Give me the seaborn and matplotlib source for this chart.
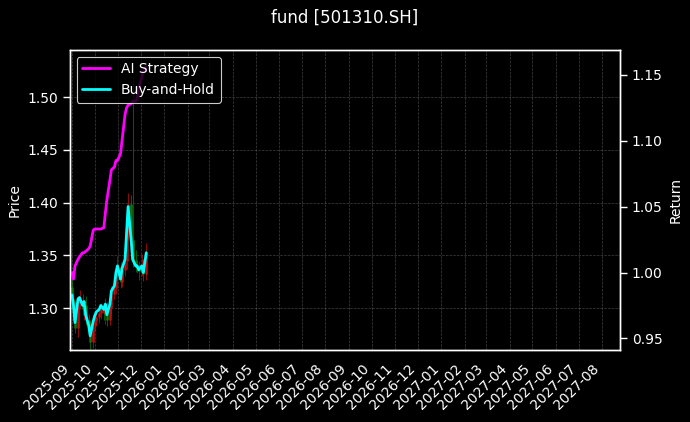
import matplotlib
matplotlib.use("Agg")
import matplotlib.pyplot as plt
import matplotlib.dates as mdates
import seaborn as sns
import pandas as pd
import numpy as np

sns.set_theme(style="dark", context="paper")
plt.style.use("dark_background")
plt.rcParams['font.family'] = ['DejaVu Sans']
plt.rcParams['font.size'] = 10

dates = pd.bdate_range('2025-09-01', '2025-12-10')[::2][:36]
bh = [0.983,0.975,0.962,0.98,0.981,0.975,0.978,0.968,0.96,0.952,0.963,0.967,0.97,0.972,0.975,0.972,
      0.976,0.968,0.976,0.986,0.99,1.0,1.005,0.995,1.003,1.01,1.03,1.05,1.025,1.01,1.005,1.005,1.002,1.005,1.0,1.015]
ai = [1.0,0.995,1.005,1.01,1.012,1.015,1.015,1.016,1.018,1.02,1.032,1.033,1.033,1.033,1.033,1.034,1.045,1.055,
      1.07,1.078,1.08,1.085,1.085,1.09,1.1,1.12,1.125,1.127,1.128,1.13,1.13,1.132,1.14,1.148,1.152,1.156]
close = [1.309,1.299,1.281,1.305,1.307,1.299,1.303,1.289,1.279,1.268,1.283,1.288,1.292,1.295,1.299,1.295,1.300,
         1.289,1.300,1.313,1.319,1.332,1.339,1.325,1.336,1.345,1.372,1.399,1.365,1.345,1.339,1.339,1.335,1.339,1.332,1.352]
opn = [1.320] + close[:-1]
wick_up = [0.01,0.005,0.008,0.006,0.01,0.006,0.004,0.008,0.005,0.006,0.01,0.005,0.006,0.004,0.006,0.005,0.01,0.006,
           0.005,0.008,0.006,0.006,0.01,0.005,0.006,0.01,0.01,0.01,0.008,0.155,0.01,0.008,0.006,0.012,0.008,0.01]
wick_dn = [0.006,0.01,0.005,0.008,0.006,0.006,0.01,0.005,0.006,0.01,0.006,0.005,0.004,0.006,0.005,0.006,0.01,0.006,
           0.005,0.006,0.004,0.006,0.005,0.006,0.005,0.006,0.008,0.006,0.01,0.006,0.005,0.006,0.008,0.005,0.006,0.005]

fig, ax = plt.subplots(figsize=(6.9, 4.22), dpi=100)
fig.patch.set_facecolor('black')
ax.set_facecolor('black')
fig.subplots_adjust(left=0.101, right=0.899, top=0.882, bottom=0.17)

for d, o, c, wu, wd in zip(dates, opn, close, wick_up, wick_dn):
    col = '#d01010' if c >= o else '#108010'
    ax.vlines(d, min(o, c) - wd, max(o, c) + wu, color=col, linewidth=0.6, alpha=0.8)
    ax.vlines(d, min(o, c), max(o, c), color=col, linewidth=2, alpha=0.8)
ax.set_ylabel('Price', fontsize=10)
ax.set_ylim(1.260, 1.545)
ax.set_xlim(pd.Timestamp('2025-08-29'), pd.Timestamp('2027-08-25'))
ax.xaxis.set_major_locator(mdates.MonthLocator())
ax.xaxis.set_major_formatter(mdates.DateFormatter('%Y-%m'))
ax.tick_params(labelsize=10)
plt.setp(ax.get_xticklabels(), rotation=45, ha='right')
ax.grid(True, color='gray', linestyle='--', linewidth=0.5, alpha=0.5)

ax2 = ax.twinx()
df = pd.DataFrame({'date': dates, 'AI Strategy': ai, 'Buy-and-Hold': bh})
sns.lineplot(data=df, x='date', y='AI Strategy', ax=ax2, color='magenta', linewidth=2, label='AI Strategy')
sns.lineplot(data=df, x='date', y='Buy-and-Hold', ax=ax2, color='cyan', linewidth=2, label='Buy-and-Hold')
ax2.set_ylim(0.941, 1.169)
ax2.set_ylabel('Return', fontsize=10)
ax2.set_xlabel('')
ax2.tick_params(labelsize=10)
ax2.legend(loc='upper left', facecolor='black', edgecolor='white', framealpha=0.8, fontsize=10)
ax.set_xlabel('')
fig.suptitle('fund [501310.SH]', fontsize=12)
fig.savefig('out.png', dpi=100, facecolor='black')
